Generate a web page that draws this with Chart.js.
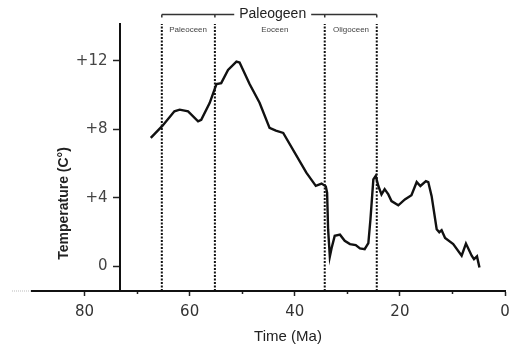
<!DOCTYPE html>
<html>
<head>
<meta charset="utf-8">
<script src="https://cdn.jsdelivr.net/npm/chart.js@4.4.1/dist/chart.umd.min.js"></script>
<style>
  html, body { margin: 0; padding: 0; background: #fff; }
  #wrap { width: 516px; height: 349px; }
</style>
</head>
<body>
<div id="wrap"><canvas id="tempChart"></canvas></div>
<script>
// Temperature curve (age in Ma, temperature in °C)
const ages = [67.4, 65.2, 62.9, 61.9, 60.3, 58.4, 57.8, 56.2, 54.9, 54.0, 52.7, 51.1, 50.5, 48.6, 46.7,
  44.8, 43.6, 42.2, 37.8, 36.0, 34.9, 34.1, 33.85, 33.66, 33.33, 33.0, 32.4, 31.4, 30.5, 29.5,
  28.4, 27.6, 26.7, 26.0, 25.6, 25.05, 24.6, 24.1, 23.5, 22.9, 22.2, 21.6, 20.3, 19.05, 17.8,
  16.8, 16.1, 15.05, 14.6, 13.96, 13.0, 12.5, 12.06, 11.4, 9.85, 8.25, 7.43, 6.34, 5.9, 5.33, 4.86];
const temps = [7.5, 8.2, 9.05, 9.15, 9.05, 8.47, 8.56, 9.53, 10.64, 10.7, 11.47, 11.95, 11.9, 10.65, 9.55,
  8.08, 7.92, 7.79, 5.47, 4.7, 4.83, 4.67, 4.3, 2.17, 0.57, 1.06, 1.78, 1.85, 1.49, 1.3,
  1.24, 1.05, 1.0, 1.35, 2.75, 5.08, 5.28, 4.69, 4.2, 4.51, 4.2, 3.81, 3.56, 3.91, 4.15,
  4.92, 4.69, 4.98, 4.92, 4.1, 2.17, 1.99, 2.11, 1.65, 1.3, 0.62, 1.33, 0.62, 0.42, 0.58, -0.07];

// epoch boundaries (Ma) and labels
const boundaries = [65.3, 55.2, 34.3, 24.4];
const epochNames = ['Paleoceen', 'Eoceen', 'Oligoceen'];
const epochLabelAt = [60.3, 43.8, 29.3];
const periodName = 'Paleogeen';
const periodLabelAt = 44.2;

const xTicks = [0, 10, 20, 30, 40, 50, 60, 70, 80];
const yTicks = [0, 4, 8, 12];
const yMin = -1.44, yMax = 14.15;

const curve = ages.map((a, i) => ({ x: a, y: temps[i] }));

const boundarySets = boundaries.map(b => ({
  data: [{ x: b, y: yMin }, { x: b, y: yMax }],
  borderColor: '#111',
  borderWidth: 2,
  borderDash: [2, 1.5],
  pointRadius: 0,
  clip: false
}));

// bracket, epoch names and axis titles
const annotations = {
  id: 'annotations',
  afterDraw(chart) {
    const { ctx, scales: { x } } = chart;
    ctx.save();
    const top = 14.5;
    const left = x.getPixelForValue(boundaries[0]);
    const right = x.getPixelForValue(boundaries[3]);
    const mid = x.getPixelForValue(periodLabelAt);

    ctx.font = '14px "Liberation Sans", Arial, sans-serif';
    const tw = ctx.measureText(periodName).width;
    ctx.strokeStyle = '#333';
    ctx.lineWidth = 1.5;
    ctx.beginPath();
    ctx.moveTo(left, top); ctx.lineTo(mid - tw / 2 - 5, top);
    ctx.moveTo(mid + tw / 2 + 5, top); ctx.lineTo(right, top);
    boundaries.forEach(b => {
      const px = x.getPixelForValue(b);
      ctx.moveTo(px, top); ctx.lineTo(px, top + 3);
    });
    ctx.stroke();

    ctx.fillStyle = '#222';
    ctx.textAlign = 'center';
    ctx.textBaseline = 'middle';
    ctx.fillText(periodName, mid, top);

    ctx.font = '8px "Liberation Sans", Arial, sans-serif';
    ctx.fillStyle = '#444';
    epochNames.forEach((n, i) => {
      ctx.fillText(n, x.getPixelForValue(epochLabelAt[i]), 29.5);
    });

    // faint extension of the time axis
    ctx.strokeStyle = '#bbb';
    ctx.lineWidth = 1;
    ctx.setLineDash([1, 1]);
    ctx.beginPath();
    ctx.moveTo(chart.chartArea.left - 20, chart.chartArea.bottom);
    ctx.lineTo(chart.chartArea.left, chart.chartArea.bottom);
    ctx.stroke();
    ctx.setLineDash([]);

    // axis titles
    ctx.fillStyle = '#222';
    ctx.font = '15px "Liberation Sans", Arial, sans-serif';
    ctx.fillText('Time (Ma)', 288, 337);

    ctx.translate(64.5, 203.5);
    ctx.rotate(-Math.PI / 2);
    ctx.font = 'bold 14px "Liberation Sans", Arial, sans-serif';
    ctx.fillText('Temperature (C°)', 0, 0);
    ctx.restore();
  }
};

new Chart(document.getElementById('tempChart'), {
  type: 'line',
  data: {
    datasets: [{
      data: curve,
      borderColor: '#111',
      borderWidth: 2.4,
      pointRadius: 0,
      tension: 0
    }, ...boundarySets]
  },
  options: {
    responsive: true,
    maintainAspectRatio: false,
    animation: false,
    layout: { padding: { left: 32, right: 11, top: 24, bottom: 21 } },
    plugins: { legend: { display: false }, tooltip: { enabled: false } },
    scales: {
      x: {
        type: 'linear',
        min: 0,
        max: 90,
        reverse: true,
        position: 'bottom',
        border: { color: '#111', width: 2 },
        grid: {
          drawOnChartArea: false,
          tickLength: 5,
          tickWidth: 1.5,
          tickColor: '#222',
          tickBorderDash: c => (c.tick && c.tick.value % 20) ? [2, 10] : []
        },
        afterBuildTicks: s => { s.ticks = xTicks.map(v => ({ value: v })); },
        ticks: {
          autoSkip: false,
          maxRotation: 0,
          padding: 7,
          color: '#333',
          font: { family: '"DejaVu Sans", sans-serif', size: 15 },
          callback: v => (v % 20 === 0 ? String(v) : '')
        }
      },
      y: {
        type: 'linear',
        min: yMin,
        max: yMax,
        position: { x: 73.3 },
        border: { color: '#111', width: 2 },
        grid: { drawOnChartArea: false, tickLength: 6, tickWidth: 1.5, tickColor: '#222' },
        afterBuildTicks: s => { s.ticks = yTicks.map(v => ({ value: v })); },
        ticks: {
          color: '#444',
          font: { family: '"DejaVu Sans", sans-serif', size: 15 },
          // labels sit right on the axis line when it is placed at a value, so pad them with spaces
          callback: v => (v > 0 ? '+' + v : String(v)) + '\u2002 '
        }
      }
    }
  },
  plugins: [annotations]
});
</script>
</body>
</html>
